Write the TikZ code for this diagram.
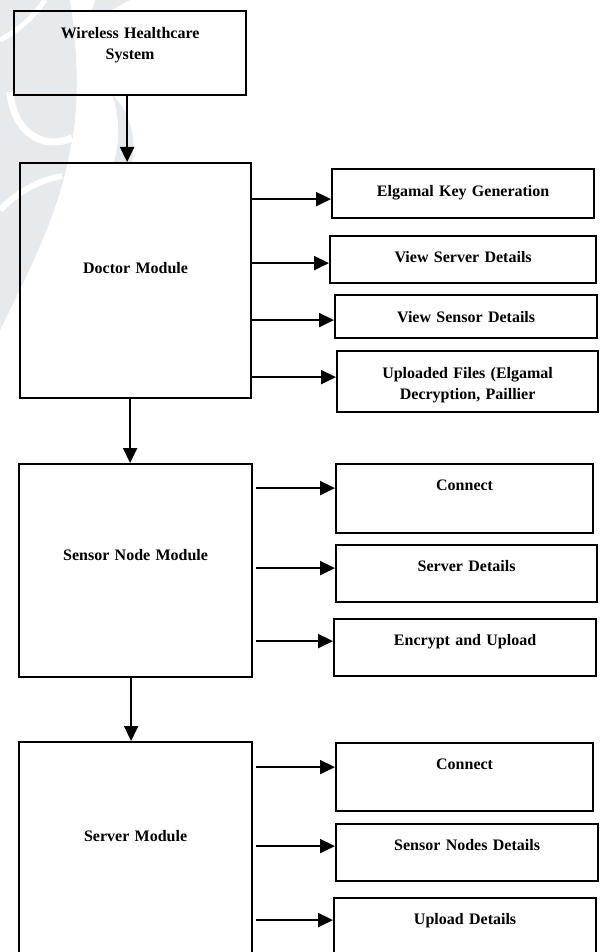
\documentclass[tikz,border=0pt]{standalone}
\usepackage{fontspec}
\setmainfont{Liberation Serif}
\usetikzlibrary{arrows.meta,positioning}
\definecolor{Wmark}{HTML}{E6EAED}
\tikzset{
  blk/.style={draw,line width=2.2pt,inner sep=0pt,align=center,anchor=north west,
    font=\bfseries\fontsize{16}{21}\selectfont},
  arr/.style={-{Triangle[length=15pt,width=14pt]},line width=2pt},
}

\begin{document}
\begin{tikzpicture}[x=1pt,y=-1pt]
  \useasboundingbox (0,0) rectangle (602,952);
  \clip (0,0) rectangle (602,952);
  % faint watermark behind the chart
  \fill[Wmark] (0,0) -- (70,0) .. controls (78,50) and (80,110) .. (70,150)
    .. controls (60,210) and (30,270) .. (0,330) -- cycle;
  \draw[white,line width=7pt] (10,92) .. controls (14,135) and (45,150) .. (72,138);
  \draw[white,line width=6pt] (0,210) .. controls (20,190) and (40,180) .. (62,176);
  \draw[white,line width=5pt] (0,40) .. controls (20,30) and (35,15) .. (45,0);
  \fill[Wmark] (112,94) .. controls (132,115) and (136,140) .. (132,162)
    -- (114,162) .. controls (120,140) and (120,118) .. (112,94) -- cycle;
  \fill[Wmark] (95,0) -- (130,0) .. controls (122,4) and (116,8) .. (112,10) -- (92,10) -- cycle;

  % main column
  \node[blk,text width=232pt,text height=27pt,text depth=57pt] (wl) at (13,10) {Wireless Healthcare\\System};
  \node[blk,text width=231pt,text height=110pt,text depth=125pt] (doc) at (19,162) {Doctor Module};
  \node[blk,text width=233pt,text height=96pt,text depth=117pt] (sen) at (18,463) {Sensor Node Module};
  \node[blk,text width=233pt,text height=99pt,text depth=141pt] (srv) at (18,741) {Server Module};

  % doctor side
  \node[blk,text width=262pt,text height=27pt,text depth=22pt] (elg) at (331,168) {Elgamal Key Generation};
  \node[blk,text width=266pt,text height=26pt,text depth=21pt] (vsv) at (329,235) {View Server Details};
  \node[blk,text width=262pt,text height=27pt,text depth=16pt] (vsn) at (334,294) {View Sensor Details};
  \node[blk,text width=261pt,text height=27pt,text depth=34pt] (upf) at (336,350) {Uploaded Files (Elgamal\\Decryption, Paillier};

  % sensor node side
  \node[blk,text width=257pt,text height=26pt,text depth=43pt] (con1) at (335,463) {Connect};
  \node[blk,text width=261pt,text height=26pt,text depth=31pt] (sdt) at (335,544) {Server Details};
  \node[blk,text width=262pt,text height=26pt,text depth=31pt] (enc) at (333,618) {Encrypt and Upload};

  % server side
  \node[blk,text width=257pt,text height=26pt,text depth=42pt] (con2) at (335,742) {Connect};
  \node[blk,text width=262pt,text height=26pt,text depth=31pt] (snd) at (335,823) {Sensor Nodes Details};
  \node[blk,text width=262pt,text height=26pt,text depth=50pt] (upd) at (333,897) {Upload Details};

  % arrows down
  \draw[arr] ([xshift=-3pt]wl.south) -- ([xshift=-3pt]wl.south |- doc.north);
  \draw[arr] ([xshift=-5.5pt]doc.south) -- ([xshift=-5.5pt]doc.south |- sen.north);
  \draw[arr] ([xshift=-4.5pt]sen.south) -- ([xshift=-4.5pt]sen.south |- srv.north);

  % arrows right
  \foreach \b/\s in {elg/-5.5,vsv/-3.5,vsn/-3.5,upf/4.5}
    \draw[arr] ([yshift=\s pt]\b.west -| doc.east) -- ([yshift=\s pt]\b.west);
  \foreach \b/\s in {con1/10.5,sdt/5.5,enc/6.5}
    \draw[arr] ([yshift=\s pt,xshift=3pt]\b.west -| sen.east) -- ([yshift=\s pt]\b.west);
  \foreach \b/\s in {con2/10,snd/6.5,upd/16}
    \draw[arr] ([yshift=\s pt,xshift=3pt]\b.west -| srv.east) -- ([yshift=\s pt]\b.west);
\end{tikzpicture}
\end{document}
